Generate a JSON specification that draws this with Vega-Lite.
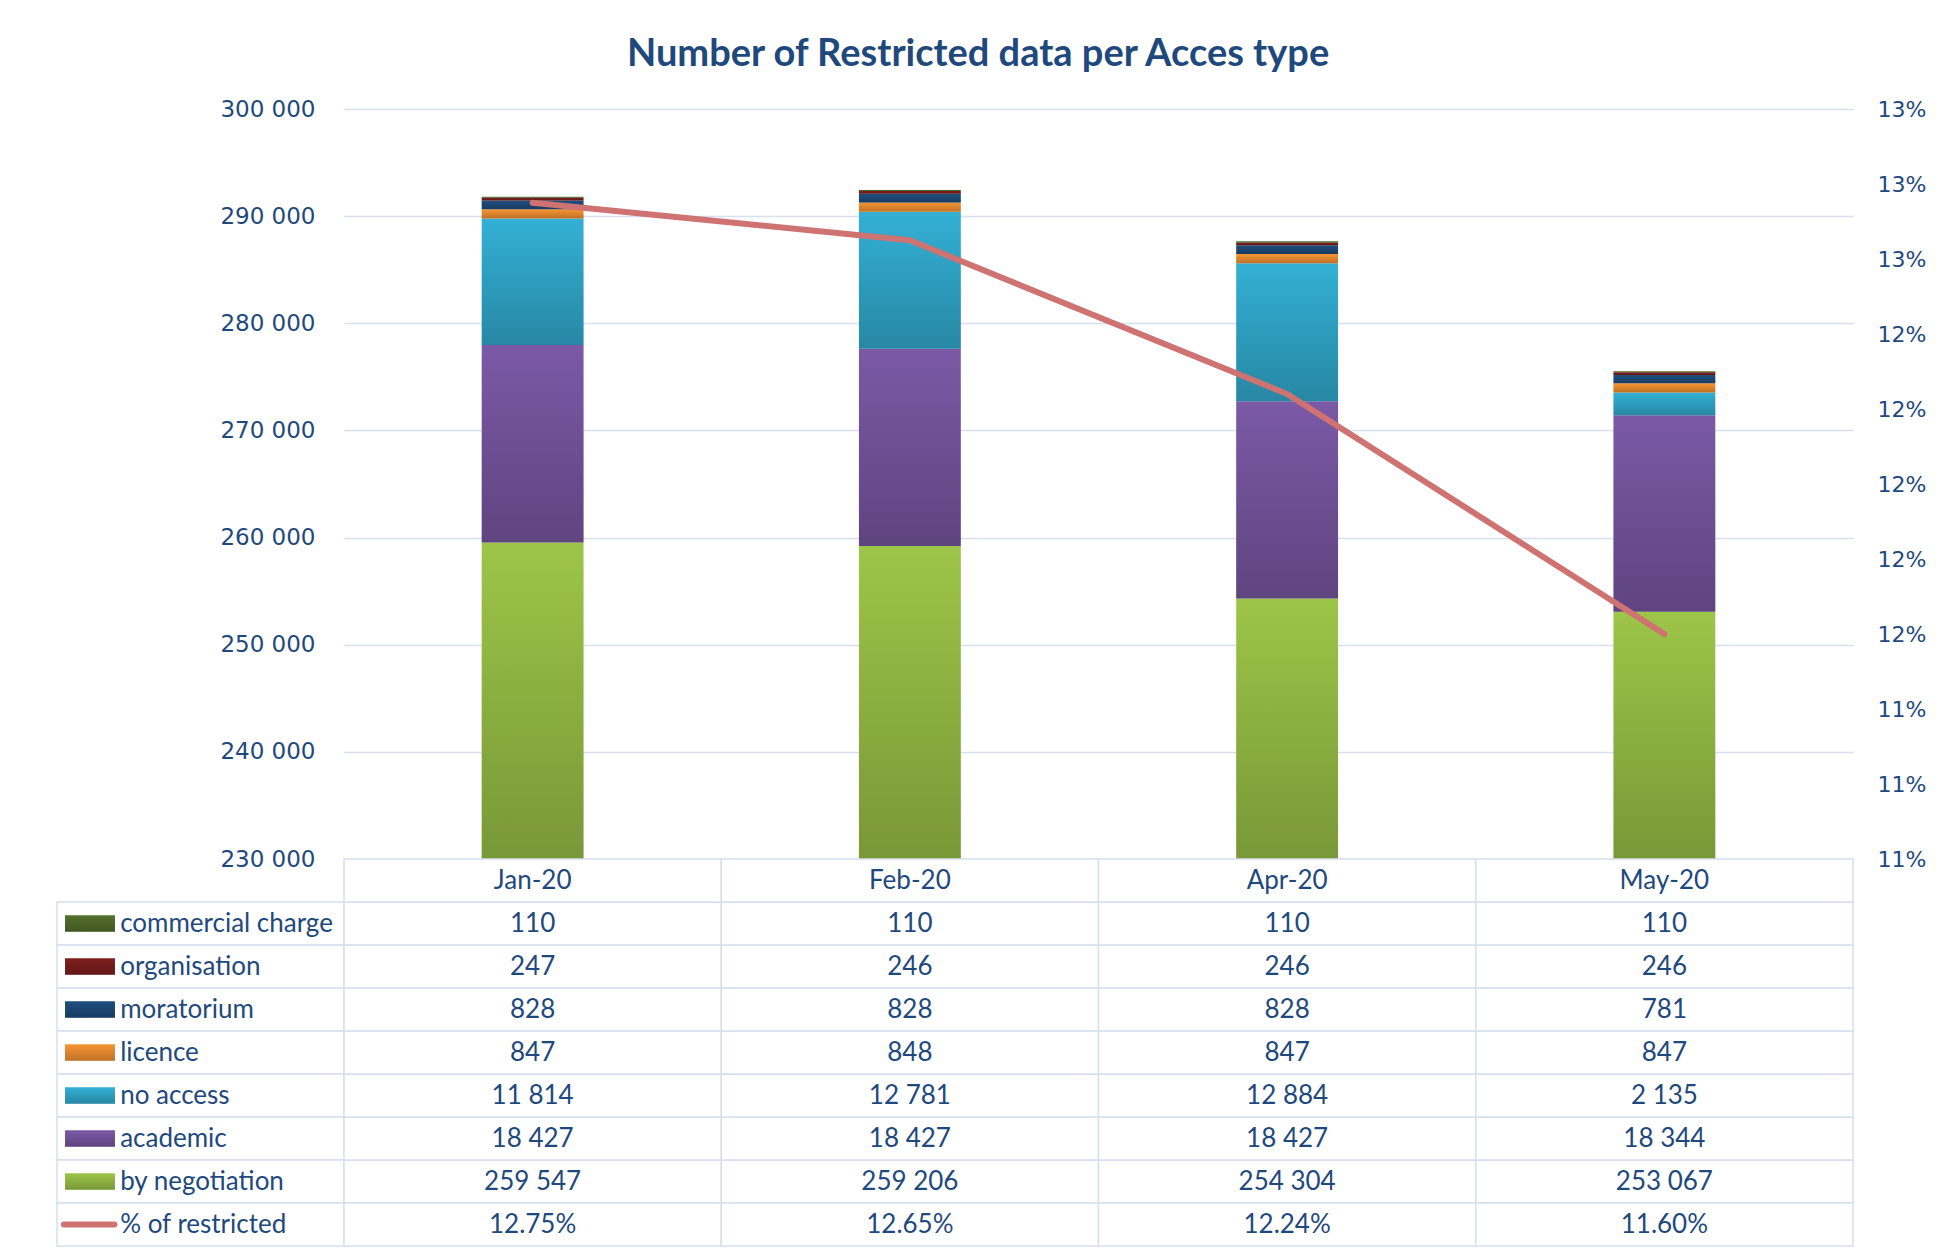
{
  "$schema": "https://vega.github.io/schema/vega-lite/v6.json",
  "background": "white",
  "padding": {"left": 56, "top": 36, "right": 5, "bottom": 5},
  "title": {"text": "Number of Restricted data per Acces type", "font": "Lato", "fontWeight": "bold", "fontSize": 38, "color": "#1F497D", "anchor": "middle", "offset": 24, "dx": -13},
  "config": {
    "locale": {"number": {"decimal": ".", "thousands": " ", "grouping": [3], "currency": ["", ""]}},
    "view": {"stroke": null}
  },
  "datasets": {
    "counts": [
      {"month": "Jan-20", "series": "by negotiation", "value": 259547, "rank": 1},
      {"month": "Jan-20", "series": "academic", "value": 18427, "rank": 2},
      {"month": "Jan-20", "series": "no access", "value": 11814, "rank": 3},
      {"month": "Jan-20", "series": "licence", "value": 847, "rank": 4},
      {"month": "Jan-20", "series": "moratorium", "value": 828, "rank": 5},
      {"month": "Jan-20", "series": "organisation", "value": 247, "rank": 6},
      {"month": "Jan-20", "series": "commercial charge", "value": 110, "rank": 7},
      {"month": "Feb-20", "series": "by negotiation", "value": 259206, "rank": 1},
      {"month": "Feb-20", "series": "academic", "value": 18427, "rank": 2},
      {"month": "Feb-20", "series": "no access", "value": 12781, "rank": 3},
      {"month": "Feb-20", "series": "licence", "value": 848, "rank": 4},
      {"month": "Feb-20", "series": "moratorium", "value": 828, "rank": 5},
      {"month": "Feb-20", "series": "organisation", "value": 246, "rank": 6},
      {"month": "Feb-20", "series": "commercial charge", "value": 110, "rank": 7},
      {"month": "Apr-20", "series": "by negotiation", "value": 254304, "rank": 1},
      {"month": "Apr-20", "series": "academic", "value": 18427, "rank": 2},
      {"month": "Apr-20", "series": "no access", "value": 12884, "rank": 3},
      {"month": "Apr-20", "series": "licence", "value": 847, "rank": 4},
      {"month": "Apr-20", "series": "moratorium", "value": 828, "rank": 5},
      {"month": "Apr-20", "series": "organisation", "value": 246, "rank": 6},
      {"month": "Apr-20", "series": "commercial charge", "value": 110, "rank": 7},
      {"month": "May-20", "series": "by negotiation", "value": 253067, "rank": 1},
      {"month": "May-20", "series": "academic", "value": 18344, "rank": 2},
      {"month": "May-20", "series": "no access", "value": 2135, "rank": 3},
      {"month": "May-20", "series": "licence", "value": 847, "rank": 4},
      {"month": "May-20", "series": "moratorium", "value": 781, "rank": 5},
      {"month": "May-20", "series": "organisation", "value": 246, "rank": 6},
      {"month": "May-20", "series": "commercial charge", "value": 110, "rank": 7}
    ],
    "pct": [
      {"month": "Jan-20", "series": "% of restricted", "pct": 0.1275},
      {"month": "Feb-20", "series": "% of restricted", "pct": 0.1265},
      {"month": "Apr-20", "series": "% of restricted", "pct": 0.1224},
      {"month": "May-20", "series": "% of restricted", "pct": 0.116}
    ],
    "rows": [
      {"series": "commercial charge"},
      {"series": "organisation"},
      {"series": "moratorium"},
      {"series": "licence"},
      {"series": "no access"},
      {"series": "academic"},
      {"series": "by negotiation"},
      {"series": "% of restricted"}
    ]
  },
  "columns": 2,
  "spacing": 0,
  "bounds": "flush",
  "concat": [
    {
      "width": 287, "height": 750,
      "data": {"values": []},
      "mark": "text",
      "encoding": {}
    },
    {
      "width": 1509, "height": 750,
      "layer": [
        {
          "data": {"name": "counts"},
          "encoding": {
            "x": {"field": "month", "type": "nominal", "sort": ["Jan-20", "Feb-20", "Apr-20", "May-20"], "scale": {"domain": ["Jan-20", "Feb-20", "Apr-20", "May-20"], "paddingInner": 0, "paddingOuter": 0}, "axis": null},
            "y": {"field": "value", "type": "quantitative", "stack": "zero",
              "scale": {"domain": [230000, 300000], "nice": false, "zero": false, "clamp": true},
              "axis": {"orient": "left", "title": null, "values": [230000, 240000, 250000, 260000, 270000, 280000, 290000, 300000], "format": ",.0f", "labelFont": "DejaVu Sans", "labelFontSize": 23, "labelColor": "#1F497D", "labelPadding": 29, "ticks": false, "domain": false, "grid": true, "gridColor": "#D6E0EE", "gridWidth": 1.5}},
            "order": {"field": "rank", "type": "quantitative"}
          },
          "layer": [
            {
              "mark": {"type": "bar", "width": {"band": 0.27}, "clip": true},
              "encoding": {
                "color": {"field": "series", "type": "nominal", "legend": null,
                  "scale": {"domain": ["by negotiation", "academic", "no access", "licence", "moratorium", "organisation", "commercial charge", "% of restricted"],
                    "range": ["#9DC548", "#7B59A6", "#33B0D5", "#F79433", "#1F4E7F", "#7F1E1E", "#55702C", "#CF7272"]}}
              }
            },
            {
              "mark": {"type": "bar", "width": {"band": 0.27}, "clip": true,
                "fill": {"gradient": "linear", "x1": 0, "y1": 0, "x2": 0, "y2": 1, "stops": [{"offset": 0, "color": "rgba(0,0,0,0)"}, {"offset": 1, "color": "rgba(0,0,0,0.23)"}]}},
              "encoding": {
                "detail": {"field": "series", "type": "nominal"}
              }
            }
          ]
        },
        {
          "data": {"name": "pct"},
          "mark": {"type": "line", "color": "#CF7272", "strokeWidth": 6, "strokeCap": "round", "strokeJoin": "round"},
          "encoding": {
            "x": {"field": "month", "type": "nominal", "sort": ["Jan-20", "Feb-20", "Apr-20", "May-20"], "scale": {"domain": ["Jan-20", "Feb-20", "Apr-20", "May-20"], "paddingInner": 0, "paddingOuter": 0}, "axis": null},
            "y": {"field": "pct", "type": "quantitative",
              "scale": {"domain": [0.11, 0.13], "nice": false, "zero": false},
              "axis": {"orient": "right", "title": null, "values": [0.11, 0.112, 0.114, 0.116, 0.118, 0.12, 0.122, 0.124, 0.126, 0.128, 0.13], "format": ".0%", "labelFont": "DejaVu Sans", "labelFontSize": 22, "labelColor": "#1F497D", "labelPadding": 24, "ticks": false, "domain": false, "grid": false}}
          }
        }
      ],
      "resolve": {"scale": {"y": "independent"}}
    },
    {
      "width": 287, "height": 387,
      "data": {"name": "rows"},
      "encoding": {
        "y": {"field": "series", "type": "nominal", "axis": null,
          "scale": {"type": "band", "domain": ["header", "commercial charge", "organisation", "moratorium", "licence", "no access", "academic", "by negotiation", "% of restricted"], "paddingInner": 0, "paddingOuter": 0}}
      },
      "layer": [
        {
          "mark": {"type": "rect", "fill": "white", "stroke": "#D6E0EE", "strokeWidth": 1.5},
          "encoding": {
            "x": {"datum": 0, "type": "quantitative", "scale": {"domain": [0, 1], "nice": false, "zero": false}, "axis": null},
            "x2": {"datum": 1}
          }
        },
        {
          "transform": [{"filter": "datum.series != '% of restricted'"}],
          "mark": {"type": "bar", "height": {"band": 0.38}},
          "encoding": {
            "x": {"datum": 0.028, "type": "quantitative"},
            "x2": {"datum": 0.202},
            "color": {"field": "series", "type": "nominal", "legend": null,
              "scale": {"domain": ["by negotiation", "academic", "no access", "licence", "moratorium", "organisation", "commercial charge", "% of restricted"],
                "range": ["#9DC548", "#7B59A6", "#33B0D5", "#F79433", "#1F4E7F", "#7F1E1E", "#55702C", "#CF7272"]}}
          }
        },
        {
          "transform": [{"filter": "datum.series != '% of restricted'"}],
          "mark": {"type": "bar", "height": {"band": 0.38},
            "fill": {"gradient": "linear", "x1": 0, "y1": 0, "x2": 0, "y2": 1, "stops": [{"offset": 0, "color": "rgba(0,0,0,0)"}, {"offset": 1, "color": "rgba(0,0,0,0.23)"}]}},
          "encoding": {
            "x": {"datum": 0.028, "type": "quantitative"},
            "x2": {"datum": 0.202}
          }
        },
        {
          "transform": [{"filter": "datum.series == '% of restricted'"}],
          "mark": {"type": "rule", "strokeWidth": 6, "strokeCap": "round", "color": "#CF7272"},
          "encoding": {
            "x": {"datum": 0.024, "type": "quantitative"},
            "x2": {"datum": 0.2}
          }
        },
        {
          "mark": {"type": "text", "align": "left", "baseline": "middle", "font": "Lato", "fontSize": 26, "color": "#1F497D"},
          "encoding": {
            "x": {"datum": 0.22, "type": "quantitative"},
            "text": {"field": "series", "type": "nominal"}
          }
        }
      ]
    },
    {
      "width": 1509, "height": 387,
      "encoding": {
        "x": {"field": "month", "type": "nominal", "axis": null,
          "scale": {"domain": ["Jan-20", "Feb-20", "Apr-20", "May-20"], "paddingInner": 0, "paddingOuter": 0}}
      },
      "layer": [
        {
          "data": {"name": "counts"},
          "mark": {"type": "rect", "fill": "white", "stroke": "#D6E0EE", "strokeWidth": 1.5},
          "encoding": {
            "y": {"field": "series", "type": "nominal", "axis": null,
              "scale": {"type": "band", "domain": ["header", "commercial charge", "organisation", "moratorium", "licence", "no access", "academic", "by negotiation", "% of restricted"], "paddingInner": 0, "paddingOuter": 0}}
          }
        },
        {
          "data": {"name": "pct"},
          "mark": {"type": "rect", "fill": "white", "stroke": "#D6E0EE", "strokeWidth": 1.5},
          "encoding": {
            "y": {"field": "series", "type": "nominal", "axis": null}
          }
        },
        {
          "data": {"name": "pct"},
          "mark": {"type": "rect", "fill": "white", "stroke": "#D6E0EE", "strokeWidth": 1.5},
          "encoding": {
            "y": {"datum": "header", "type": "nominal", "axis": null}
          }
        },
        {
          "data": {"name": "counts"},
          "mark": {"type": "text", "align": "center", "baseline": "middle", "font": "Lato", "fontSize": 26, "color": "#1F497D"},
          "encoding": {
            "y": {"field": "series", "type": "nominal", "axis": null},
            "text": {"field": "value", "type": "quantitative", "format": ","}
          }
        },
        {
          "data": {"name": "pct"},
          "mark": {"type": "text", "align": "center", "baseline": "middle", "font": "Lato", "fontSize": 26, "color": "#1F497D"},
          "encoding": {
            "y": {"field": "series", "type": "nominal", "axis": null},
            "text": {"field": "pct", "type": "quantitative", "format": ".2%"}
          }
        },
        {
          "data": {"name": "pct"},
          "mark": {"type": "text", "align": "center", "baseline": "middle", "font": "Lato", "fontSize": 26, "color": "#1F497D"},
          "encoding": {
            "y": {"datum": "header", "type": "nominal", "axis": null},
            "text": {"field": "month", "type": "nominal"}
          }
        }
      ]
    }
  ]
}
